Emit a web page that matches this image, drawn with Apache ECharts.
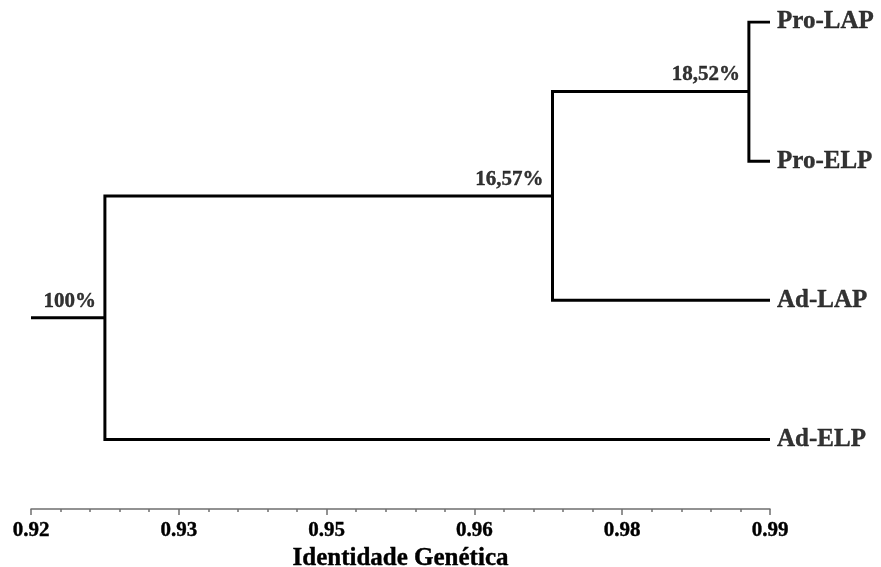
<!DOCTYPE html>
<html>
<head>
<meta charset="utf-8">
<script src="https://cdn.jsdelivr.net/npm/echarts@6/dist/echarts.min.js"></script>
<style>
  html, body { margin: 0; padding: 0; background: #fff; }
  #chart { width: 881px; height: 567px; }
</style>
</head>
<body>
<div id="chart"></div>
<script>
// Dendrogram of genetic identity between groups
const leafNames = ['Pro-LAP', 'Pro-ELP', 'Ad-LAP', 'Ad-ELP'];
const leafIdentity = 0.99;
// merges: [childA, childB] where leaves are 'L#' and internal nodes 'N#'
const merges = [['L0', 'L1'], ['N0', 'L2'], ['N1', 'L3']];
const nodeIdentity = [0.988, 0.9694, 0.927];
const nodeLabels = ['18,52%', '16,57%', '100%'];
const rootStart = 0.92;
const tickValues = [0.92, 0.934, 0.948, 0.962, 0.976, 0.99];
const tickLabels = ['0.92', '0.93', '0.95', '0.96', '0.98', '0.99'];
const axisTitle = 'Identidade Genética';

const FONT = '"Liberation Serif", "Times New Roman", serif';
const INK = '#000';
// a thin outline in the text colour gives the heavier bold look
const heavy = { textBorderColor: INK, textBorderWidth: 0.4 };

// resolve positions: leaves take their order index on the vertical axis
const pos = {};
leafNames.forEach((n, i) => { pos['L' + i] = { x: leafIdentity, y: i }; });
merges.forEach((m, i) => {
  const a = pos[m[0]], b = pos[m[1]];
  pos['N' + i] = { x: nodeIdentity[i], y: (a.y + b.y) / 2 };
});

const series = [];
merges.forEach((m, i) => {
  const a = pos[m[0]], b = pos[m[1]], n = pos['N' + i];
  series.push({
    type: 'line', xAxisIndex: 0, yAxisIndex: 0, symbol: 'none', silent: true,
    lineStyle: { color: INK, width: 3, join: 'miter' },
    data: [[a.x, a.y], [n.x, a.y], [n.x, b.y], [b.x, b.y]]
  });
});
const root = pos['N' + (merges.length - 1)];
series.push({
  type: 'line', xAxisIndex: 0, yAxisIndex: 0, symbol: 'none', silent: true,
  lineStyle: { color: INK, width: 3 },
  data: [[rootStart, root.y], [root.x, root.y]]
});

// node percentages, above-left of each junction
series.push({
  type: 'scatter', xAxisIndex: 0, yAxisIndex: 0, symbolSize: 0, silent: true,
  data: nodeLabels.map((t, i) => ({ value: [pos['N' + i].x, pos['N' + i].y], name: t })),
  label: Object.assign({
    show: true, position: [-9, -6], align: 'right', verticalAlign: 'bottom',
    formatter: p => p.name,
    fontFamily: FONT, fontWeight: 'bold', fontSize: 21, color: INK
  }, heavy)
});

// leaf names at the tips
series.push({
  type: 'scatter', xAxisIndex: 0, yAxisIndex: 0, symbolSize: 0, silent: true,
  data: leafNames.map((t, i) => ({ value: [pos['L' + i].x, pos['L' + i].y], name: t })),
  label: Object.assign({
    show: true, position: 'right', distance: 7,
    formatter: p => p.name,
    fontFamily: FONT, fontWeight: 'bold', fontSize: 25, color: INK
  }, heavy)
});

// minor tick positions: four between each pair of labelled ticks
const minorTicks = [];
for (let i = 0; i < tickValues.length - 1; i++) {
  const step = (tickValues[i + 1] - tickValues[i]) / 5;
  for (let k = 1; k < 5; k++) minorTicks.push(tickValues[i] + step * k);
}

const gridBox = { left: 31, right: 111, top: 22, bottom: 58, outerBoundsMode: 'none' };
const AXIS_GREY = '#6f6f6f';

const chart = echarts.init(document.getElementById('chart'));
chart.setOption({
  animation: false,
  backgroundColor: '#fff',
  grid: [Object.assign({}, gridBox), Object.assign({}, gridBox)],
  xAxis: [{
    gridIndex: 0, type: 'value', min: rootStart, max: leafIdentity,
    position: 'bottom',
    splitLine: { show: false },
    axisLine: { show: true, onZero: false, lineStyle: { color: AXIS_GREY, width: 1.5 } },
    axisTick: { show: true, customValues: tickValues, length: 6, lineStyle: { color: AXIS_GREY, width: 1.5 } },
    axisLabel: Object.assign({
      show: true, customValues: tickValues, margin: 11,
      formatter: v => tickLabels[tickValues.findIndex(t => Math.abs(t - v) < 1e-6)],
      fontFamily: FONT, fontWeight: 'bold', fontSize: 21, color: INK
    }, heavy),
    name: axisTitle, nameLocation: 'middle', nameGap: 33,
    nameTextStyle: Object.assign({ fontFamily: FONT, fontWeight: 'bold', fontSize: 25, color: INK }, heavy)
  }, {
    gridIndex: 1, type: 'value', min: rootStart, max: leafIdentity,
    position: 'bottom',
    splitLine: { show: false },
    axisLine: { show: false, onZero: false },
    axisTick: { show: true, customValues: minorTicks, length: 3, lineStyle: { color: AXIS_GREY, width: 1.5 } },
    axisLabel: { show: false }
  }],
  yAxis: [
    { gridIndex: 0, type: 'value', min: 0, max: 3.5, inverse: true, show: false },
    { gridIndex: 1, type: 'value', min: 0, max: 3.5, inverse: true, show: false }
  ],
  series: series
});
</script>
</body>
</html>
